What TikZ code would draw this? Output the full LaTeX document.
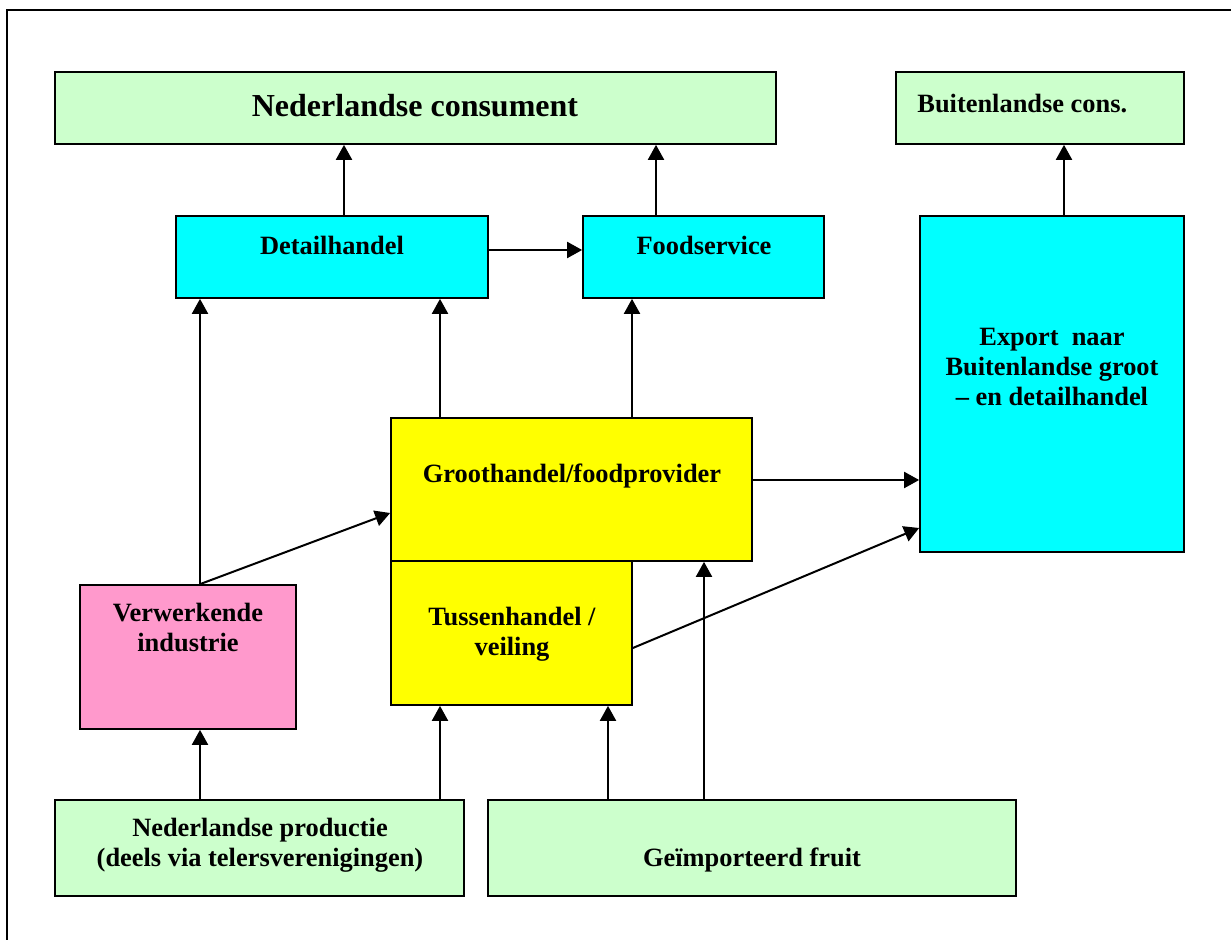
\documentclass[tikz,border=0pt]{standalone}
\usepackage{fontspec}
\setmainfont{Liberation Serif}
\usepackage{xcolor}
\usepackage{tikz}
\usetikzlibrary{arrows.meta, calc}

\definecolor{consgreen}{HTML}{CCFFCC}
\definecolor{handelcyan}{HTML}{00FFFF}
\definecolor{tradeyellow}{HTML}{FFFF00}
\definecolor{indpink}{HTML}{FF99CC}

\begin{document}
\begin{tikzpicture}[
  x=0.5pt, y=-0.5pt,
  box/.style={draw, line width=0.85pt, inner sep=0pt},
  lbl/.style={font=\fontsize{13.2}{15}\selectfont\bfseries,
              align=center, inner sep=0pt},
  arr/.style={-{Triangle[length=7.5pt, width=8pt]}, line width=1pt},
]
\useasboundingbox (0,0) rectangle (1231,940);
\clip (0,0) rectangle (1231,940);
\draw[line width=0.85pt] (7,10) rectangle (1300,1000);

% consumenten
\node[box, fill=consgreen, minimum width=360.5pt, minimum height=36pt]
  (nlcons) at (415.5,108) {};
\node[box, fill=consgreen, minimum width=144pt, minimum height=36pt]
  (buitcons) at (1040,108) {};

% handel
\node[box, fill=handelcyan, minimum width=156pt, minimum height=41pt]
  (detail) at (332,257) {};
\node[box, fill=handelcyan, minimum width=120.5pt, minimum height=41pt]
  (food) at (703.5,257) {};
\node[box, fill=handelcyan, minimum width=132pt, minimum height=168pt]
  (export) at (1052,384) {};
\node[box, fill=tradeyellow, minimum width=120.5pt, minimum height=72pt]
  (tussen) at (511.5,633) {};
\node[box, fill=tradeyellow, minimum width=180.5pt, minimum height=71.5pt]
  (groot) at (571.5,489.5) {};
\node[box, fill=indpink, minimum width=108pt, minimum height=72pt]
  (verwerk) at (188,657) {};

% aanbod
\node[box, fill=consgreen, minimum width=204.5pt, minimum height=48pt]
  (nlprod) at (259.5,848) {};
\node[box, fill=consgreen, minimum width=264pt, minimum height=48pt]
  (geimp) at (752,848) {};

% teksten
\node[lbl, font=\fontsize{16}{19}\selectfont\bfseries]
  (nlcons-t) at (415,106) {Nederlandse consument};
\node[lbl, anchor=west] (buitcons-t) at (917,104) {Buitenlandse cons.};
\node[lbl] (detail-t) at (332,245) {Detailhandel};
\node[lbl] (food-t) at (704,245) {Foodservice};
\node[lbl] (export-t) at (1052,367)
  {Export\ \ naar\\Buitenlandse groot\\-- en detailhandel};
\node[lbl] (groot-t) at (572,476) {Groothandel/foodprovider};
\node[lbl] (tussen-t) at (512,634) {Tussenhandel /\\veiling};
\node[lbl] (verwerk-t) at (188,628) {Verwerkende\\industrie};
\node[lbl] (nlprod-t) at (260,845)
  {Nederlandse productie\\(deels via telersverenigingen)};
\node[lbl] (geimp-t) at (752,860) {Geïmporteerd fruit};

% stromen
\coordinate (dt) at ($(detail.north)+(12,0)$);
\coordinate (fs) at ($(food.north)+(-47.5,0)$);
\coordinate (ex) at ($(export.north)+(12,0)$);
\coordinate (de) at ($(detail.east)+(0,-7)$);
\coordinate (vw) at ($(verwerk.north)+(12,0)$);
\coordinate (g1) at ($(groot.north)+(-131.5,0)$);
\coordinate (g2) at ($(groot.north)+(60.5,0)$);
\coordinate (ge) at ($(groot.east)+(0,-9.5)$);
\coordinate (ts) at ($(tussen.east)+(0,15)$);
\coordinate (p1) at ($(nlprod.north)+(-59.5,0)$);
\coordinate (p2) at ($(nlprod.north)+(180.5,0)$);
\coordinate (i1) at ($(geimp.north)+(-144,0)$);
\coordinate (i2) at ($(geimp.north)+(-48,0)$);

\draw[arr] (dt) -- (dt |- nlcons.south);
\draw[arr] (fs) -- (fs |- nlcons.south);
\draw[arr] (ex) -- (ex |- buitcons.south);
\draw[arr] (de) -- (de -| food.west);
\draw[arr] (vw) -- (vw |- detail.south);
\draw[arr] (vw) -- ($(groot.west)+(0,23.5)$);
\draw[arr] (g1) -- (g1 |- detail.south);
\draw[arr] (g2) -- (g2 |- food.south);
\draw[arr] (ge) -- (ge -| export.west);
\draw[arr] (ts) -- ($(export.west)+(0,144)$);
\draw[arr] (p1) -- (p1 |- verwerk.south);
\draw[arr] (p2) -- (p2 |- tussen.south);
\draw[arr] (i1) -- (i1 |- tussen.south);
\draw[arr] (i2) -- (i2 |- groot.south);
\end{tikzpicture}
\end{document}
